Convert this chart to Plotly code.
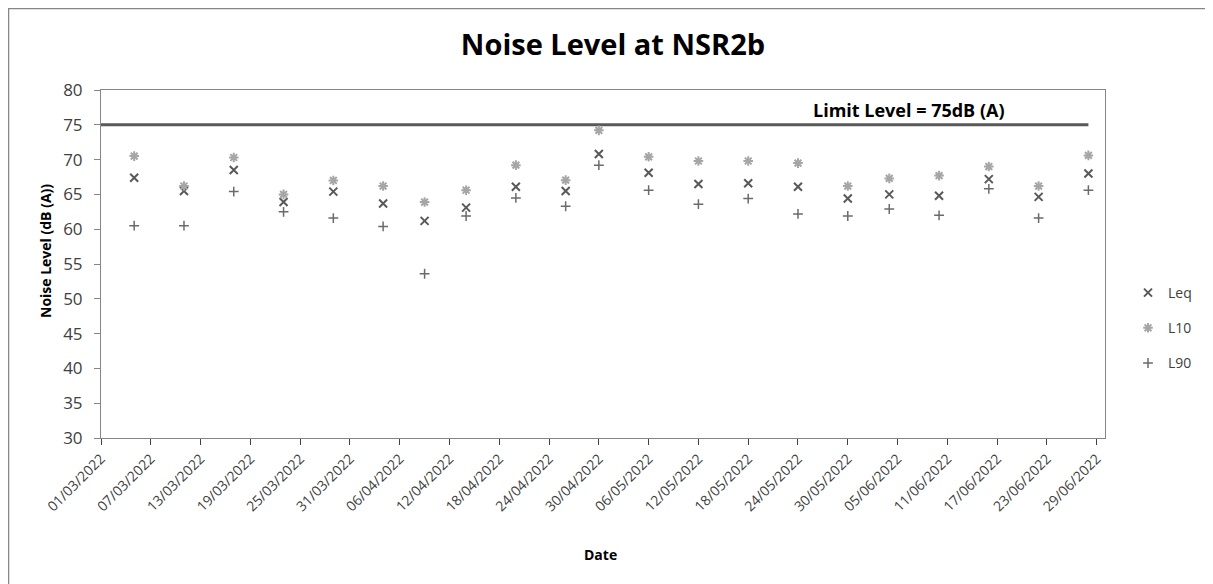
import plotly.graph_objects as go

dates = ["2022-03-05", "2022-03-11", "2022-03-17", "2022-03-23", "2022-03-29",
         "2022-04-04", "2022-04-09", "2022-04-14", "2022-04-20", "2022-04-26",
         "2022-04-30", "2022-05-06", "2022-05-12", "2022-05-18", "2022-05-24",
         "2022-05-30", "2022-06-04", "2022-06-10", "2022-06-16", "2022-06-22",
         "2022-06-28"]
leq = [67.4, 65.5, 68.5, 63.9, 65.4, 63.7, 61.2, 63.1, 66.1, 65.5, 70.8,
       68.1, 66.5, 66.6, 66.1, 64.4, 65.0, 64.8, 67.2, 64.65, 68.0]
l10 = [70.5, 66.2, 70.3, 65.0, 67.0, 66.2, 63.9, 65.6, 69.2, 67.05, 74.2,
       70.4, 69.8, 69.8, 69.5, 66.2, 67.3, 67.7, 69.0, 66.2, 70.6]
l90 = [60.5, 60.5, 65.4, 62.5, 61.6, 60.4, 53.6, 61.9, 64.5, 63.3, 69.2,
       65.6, 63.6, 64.4, 62.2, 61.9, 62.9, 62.0, 65.8, 61.6, 65.6]
limit_dates = ["2022-03-01", "2022-06-28"]
limit_values = [75, 75]
limit_label = "Limit Level = 75dB (A)"

FONT = "Open Sans"
OFF = 8  # page offset of the figure in the browser

fig = go.Figure()
fig.add_trace(go.Scatter(x=limit_dates, y=limit_values, mode="lines",
                         line=dict(color="#595959", width=3), showlegend=False,
                         hoverinfo="skip"))
fig.add_trace(go.Scatter(x=dates, y=leq, mode="markers", name="Leq", legendgroup="a",
                         marker=dict(symbol="x-thin-open", size=8, color="#595959",
                                     line=dict(color="#595959", width=2))))
fig.add_trace(go.Scatter(x=dates, y=l10, mode="markers", name="L10", legendgroup="b",
                         marker=dict(symbol="asterisk-open", size=8, color="#a6a6a6",
                                     line=dict(color="#a6a6a6", width=2))))
fig.add_trace(go.Scatter(x=dates, y=l90, mode="markers", name="L90", legendgroup="c",
                         marker=dict(symbol="cross-thin-open", size=7, color="#6b6b6b",
                                     line=dict(color="#6b6b6b", width=1.5))))

W, H = 1213, 584
# plot area in page pixels (reference): x 101..1105, y 90..438
L = 101 - OFF
T = 90 - OFF
R = W - (1105 - OFF)
B = H - (438 - OFF)
pw, ph = W - L - R, H - T - B

def px(x):
    return (x - OFF - L) / pw

def py(y):
    return (H - B - (y - OFF)) / ph

fig.update_layout(
    width=W, height=H,
    margin=dict(l=L, r=R, t=T, b=B, autoexpand=False),
    paper_bgcolor="white", plot_bgcolor="white",
    font=dict(family=FONT, color="#404040"),
    title=dict(text="<b>Noise Level at NSR2b</b>", x=(613 - OFF) / W, xref="container",
               xanchor="center", y=1 - (45 - OFF) / H, yref="container",
               yanchor="middle",
               font=dict(size=29, color="#000000", family=FONT)),
    xaxis=dict(type="date", range=["2022-03-01", "2022-06-30"],
               tick0="2022-03-01", dtick=6 * 86400000, tickformat="%d/%m/%Y",
               tickangle=-45, ticks="outside", ticklen=6, tickcolor="#404040",
               showline=True, linecolor="#868686", linewidth=1, mirror=True,
               showgrid=False, zeroline=False, automargin=False,
               tickfont=dict(size=14, color="#404040", family=FONT)),
    yaxis=dict(range=[30, 80], dtick=5, ticks="outside", ticklen=6,
               tickcolor="#868686", showline=True, linecolor="#868686",
               linewidth=1, mirror=True, showgrid=False, zeroline=False,
               automargin=False, ticklabelstandoff=8,
               tickfont=dict(size=17, color="#404040", family=FONT)),
    legend=dict(x=px(1128), y=py(328), xanchor="left", yanchor="middle",
                tracegroupgap=14, font=dict(size=14, color="#404040", family=FONT),
                bgcolor="rgba(0,0,0,0)", itemwidth=30),
    annotations=[
        dict(text="<b>Noise Level (dB (A))</b>", x=px(45), y=py(251), xref="paper",
             yref="paper", textangle=-90, showarrow=False, xanchor="center",
             yanchor="middle",
             font=dict(size=14, color="#000000", family=FONT)),
        dict(text="<b>Date</b>", x=px(600), y=py(554), xref="paper", yref="paper",
             showarrow=False, xanchor="center", yanchor="middle",
             font=dict(size=14, color="#000000", family=FONT)),
        dict(text="<b>" + limit_label + "</b>", x=px(909), y=77.1, xref="paper",
             yref="y", showarrow=False, xanchor="center", yanchor="middle",
             font=dict(size=18, color="#000000", family=FONT)),
    ],
    shapes=[
        dict(type="line", xref="paper", yref="paper", x0=px(8), x1=px(1400),
             y0=py(8.5), y1=py(8.5), line=dict(color="#868686", width=1.5)),
        dict(type="line", xref="paper", yref="paper", x0=px(8.5), x1=px(8.5),
             y0=py(8), y1=py(800), line=dict(color="#868686", width=1.5)),
    ],
)

fig.write_html("out.html")
